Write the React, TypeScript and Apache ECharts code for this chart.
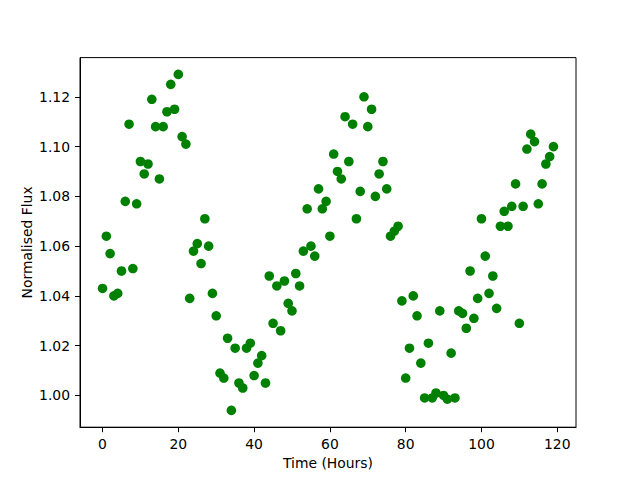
import React, { useEffect, useRef } from "react";
import * as echarts from "echarts";

const hours: number[] = [
  0, 1, 2, 3, 4, 5, 6, 7, 8, 9, 10, 11, 12, 13, 14, 15, 16, 17, 18, 19,
  20, 21, 22, 23, 24, 25, 26, 27, 28, 29, 30, 31, 32, 33, 34, 35, 36, 37, 38, 39,
  40, 41, 42, 43, 44, 45, 46, 47, 48, 49, 50, 51, 52, 53, 54, 55, 56, 57, 58, 59,
  60, 61, 62, 63, 64, 65, 66, 67, 68, 69, 70, 71, 72, 73, 74, 75, 76, 77, 78, 79,
  80, 81, 82, 83, 84, 85, 86, 87, 88, 89, 90, 91, 92, 93, 94, 95, 96, 97, 98, 99,
  100, 101, 102, 103, 104, 105, 106, 107, 108, 109, 110, 111, 112, 113, 114, 115, 116, 117, 118, 119,
];

const flux: number[] = [
  1.043, 1.064, 1.057, 1.040, 1.041, 1.050, 1.078, 1.109, 1.051, 1.077,
  1.094, 1.089, 1.093, 1.119, 1.108, 1.087, 1.108, 1.114, 1.125, 1.115,
  1.129, 1.104, 1.101, 1.039, 1.058, 1.061, 1.053, 1.071, 1.060, 1.041,
  1.032, 1.009, 1.007, 1.023, 0.994, 1.019, 1.005, 1.003, 1.019, 1.021,
  1.008, 1.013, 1.016, 1.005, 1.048, 1.029, 1.044, 1.026, 1.046, 1.037,
  1.034, 1.049, 1.044, 1.058, 1.075, 1.060, 1.056, 1.083, 1.075, 1.078,
  1.064, 1.097, 1.090, 1.087, 1.112, 1.094, 1.109, 1.071, 1.082, 1.120,
  1.108, 1.115, 1.080, 1.089, 1.094, 1.083, 1.064, 1.066, 1.068, 1.038,
  1.007, 1.019, 1.040, 1.032, 1.013, 0.999, 1.021, 0.999, 1.001, 1.034,
  1.000, 0.9985, 1.017, 0.999, 1.034, 1.033, 1.027, 1.050, 1.031, 1.039,
  1.071, 1.056, 1.041, 1.048, 1.035, 1.068, 1.074, 1.068, 1.076, 1.085,
  1.029, 1.076, 1.099, 1.105, 1.102, 1.077, 1.085, 1.093, 1.096, 1.100,
];

const xTicks: number[] = [0, 20, 40, 60, 80, 100, 120];
const yTicks: number[] = [1.0, 1.02, 1.04, 1.06, 1.08, 1.1, 1.12];

const FONT = "DejaVu Sans";

export default function App() {
  const ref = useRef<HTMLDivElement>(null);
  useEffect(() => {
    if (!ref.current) return;
    const chart = echarts.init(ref.current, null, { renderer: "svg" });
    const xMin = Math.min(...hours);
    const xMax = Math.max(...hours);
    const yMin = Math.min(...flux);
    const yMax = Math.max(...flux);
    const xPad = (xMax - xMin) * 0.05;
    const yPad = (yMax - yMin) * 0.05;
    chart.setOption({
      animation: false,
      backgroundColor: "#ffffff",
      grid: {
        left: 80,
        right: 64,
        top: 57.6,
        bottom: 52.8,
        show: true,
        borderColor: "#000000",
        borderWidth: 1,
        backgroundColor: "transparent",
      },
      xAxis: {
        type: "value",
        min: xMin - xPad,
        max: xMax + xPad,
        name: "Time (Hours)",
        nameLocation: "middle",
        nameGap: 29,
        nameMoveOverlap: false,
        nameTextStyle: { fontFamily: FONT, fontSize: 13.9, color: "#000" },
        splitLine: { show: false },
        axisLine: { show: true, onZero: false, lineStyle: { color: "#000", width: 1 } },
        axisTick: {
          show: true,
          length: 5,
          lineStyle: { color: "#000", width: 1 },
          customValues: xTicks,
        },
        axisLabel: {
          fontFamily: FONT,
          fontSize: 13.9,
          color: "#000",
          margin: 10,
          customValues: xTicks,
          formatter: (v: number) => String(Math.round(v)),
        },
      },
      yAxis: {
        type: "value",
        min: yMin - yPad,
        max: yMax + yPad,
        name: "Normalised Flux",
        nameLocation: "middle",
        nameGap: 46,
        nameRotate: 90,
        nameMoveOverlap: false,
        nameTextStyle: { fontFamily: FONT, fontSize: 13.9, color: "#000" },
        splitLine: { show: false },
        axisLine: { show: true, onZero: false, lineStyle: { color: "#000", width: 1 } },
        axisTick: {
          show: true,
          length: 5,
          lineStyle: { color: "#000", width: 1 },
          customValues: yTicks,
        },
        axisLabel: {
          fontFamily: FONT,
          fontSize: 13.9,
          color: "#000",
          margin: 10,
          customValues: yTicks,
          formatter: (v: number) => v.toFixed(2),
        },
      },
      series: [
        {
          type: "scatter",
          data: hours.map((h, i) => [h, flux[i]]),
          symbol: "circle",
          symbolSize: 9.6,
          itemStyle: { color: "#008000", opacity: 1 },
        },
      ],
    });
    return () => chart.dispose();
  }, []);
  return (
    <div
      ref={ref}
      style={{ position: "fixed", left: 0, top: 0, width: 640, height: 480 }}
    />
  );
}
